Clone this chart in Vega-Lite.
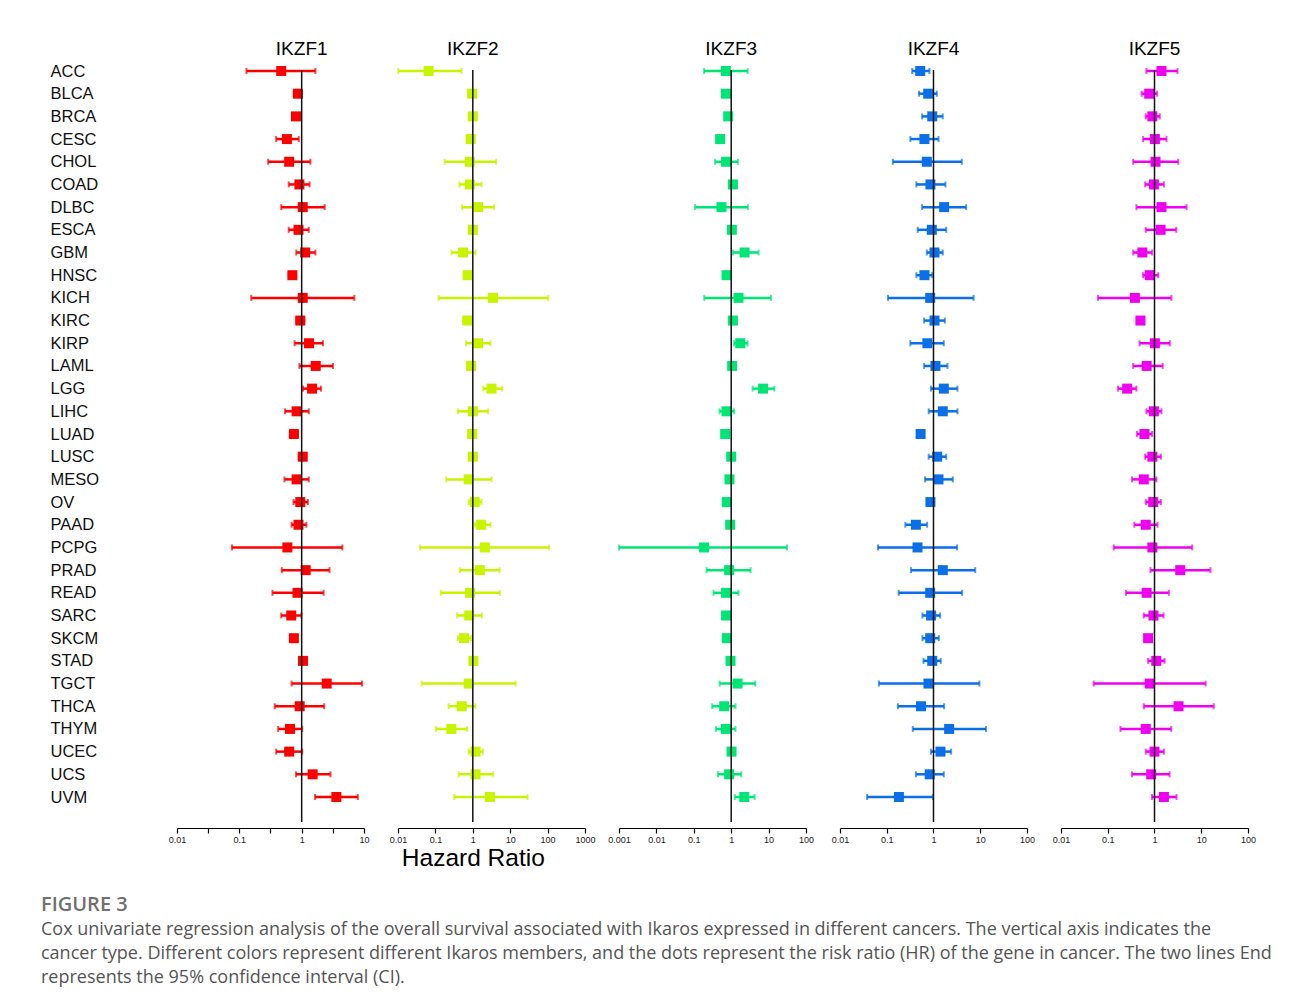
{
"$schema": "https://vega.github.io/schema/vega-lite/v6.json",
"background": "white",
"padding": {"left": 41, "top": 40, "right": 10, "bottom": 10},
"datasets": {
"ref": [{"ref": 1}],
"hr": [
{"cancer":"ACC","gene":"IKZF1","hr":0.47,"lo":0.13,"hi":1.66},
{"cancer":"BLCA","gene":"IKZF1","hr":0.87,"lo":0.75,"hi":1.0},
{"cancer":"BRCA","gene":"IKZF1","hr":0.81,"lo":0.72,"hi":0.92},
{"cancer":"CESC","gene":"IKZF1","hr":0.58,"lo":0.39,"hi":0.9},
{"cancer":"CHOL","gene":"IKZF1","hr":0.63,"lo":0.29,"hi":1.38},
{"cancer":"COAD","gene":"IKZF1","hr":0.92,"lo":0.62,"hi":1.34},
{"cancer":"DLBC","gene":"IKZF1","hr":1.04,"lo":0.47,"hi":2.34},
{"cancer":"ESCA","gene":"IKZF1","hr":0.89,"lo":0.62,"hi":1.3},
{"cancer":"GBM","gene":"IKZF1","hr":1.14,"lo":0.82,"hi":1.66},
{"cancer":"HNSC","gene":"IKZF1","hr":0.71,"lo":0.62,"hi":0.8},
{"cancer":"KICH","gene":"IKZF1","hr":1.04,"lo":0.155,"hi":7.0},
{"cancer":"KIRC","gene":"IKZF1","hr":0.95,"lo":0.82,"hi":1.1},
{"cancer":"KIRP","gene":"IKZF1","hr":1.31,"lo":0.77,"hi":2.2},
{"cancer":"LAML","gene":"IKZF1","hr":1.68,"lo":0.92,"hi":3.18},
{"cancer":"LGG","gene":"IKZF1","hr":1.47,"lo":1.05,"hi":2.04},
{"cancer":"LIHC","gene":"IKZF1","hr":0.83,"lo":0.54,"hi":1.3},
{"cancer":"LUAD","gene":"IKZF1","hr":0.75,"lo":0.65,"hi":0.87},
{"cancer":"LUSC","gene":"IKZF1","hr":1.04,"lo":0.9,"hi":1.15},
{"cancer":"MESO","gene":"IKZF1","hr":0.83,"lo":0.53,"hi":1.3},
{"cancer":"OV","gene":"IKZF1","hr":0.95,"lo":0.74,"hi":1.26},
{"cancer":"PAAD","gene":"IKZF1","hr":0.89,"lo":0.69,"hi":1.19},
{"cancer":"PCPG","gene":"IKZF1","hr":0.59,"lo":0.076,"hi":4.5},
{"cancer":"PRAD","gene":"IKZF1","hr":1.16,"lo":0.48,"hi":2.8},
{"cancer":"READ","gene":"IKZF1","hr":0.86,"lo":0.34,"hi":2.25},
{"cancer":"SARC","gene":"IKZF1","hr":0.68,"lo":0.47,"hi":0.99},
{"cancer":"SKCM","gene":"IKZF1","hr":0.75,"lo":0.68,"hi":0.83},
{"cancer":"STAD","gene":"IKZF1","hr":1.05,"lo":0.95,"hi":1.15},
{"cancer":"TGCT","gene":"IKZF1","hr":2.52,"lo":0.69,"hi":9.3},
{"cancer":"THCA","gene":"IKZF1","hr":0.93,"lo":0.37,"hi":2.3},
{"cancer":"THYM","gene":"IKZF1","hr":0.65,"lo":0.42,"hi":1.02},
{"cancer":"UCEC","gene":"IKZF1","hr":0.63,"lo":0.39,"hi":1.02},
{"cancer":"UCS","gene":"IKZF1","hr":1.5,"lo":0.81,"hi":2.9},
{"cancer":"UVM","gene":"IKZF1","hr":3.6,"lo":1.64,"hi":7.96},
{"cancer":"ACC","gene":"IKZF2","hr":0.066,"lo":0.0102,"hi":0.5},
{"cancer":"BLCA","gene":"IKZF2","hr":0.96,"lo":0.9,"hi":1.04},
{"cancer":"BRCA","gene":"IKZF2","hr":1.0,"lo":0.9,"hi":1.1},
{"cancer":"CESC","gene":"IKZF2","hr":0.88,"lo":0.8,"hi":0.98},
{"cancer":"CHOL","gene":"IKZF2","hr":0.83,"lo":0.177,"hi":4.2},
{"cancer":"COAD","gene":"IKZF2","hr":0.83,"lo":0.44,"hi":1.71},
{"cancer":"DLBC","gene":"IKZF2","hr":1.39,"lo":0.52,"hi":3.74},
{"cancer":"ESCA","gene":"IKZF2","hr":1.0,"lo":0.88,"hi":1.12},
{"cancer":"GBM","gene":"IKZF2","hr":0.55,"lo":0.27,"hi":1.18},
{"cancer":"HNSC","gene":"IKZF2","hr":0.73,"lo":0.66,"hi":0.8},
{"cancer":"KICH","gene":"IKZF2","hr":3.45,"lo":0.122,"hi":104},
{"cancer":"KIRC","gene":"IKZF2","hr":0.72,"lo":0.55,"hi":0.95},
{"cancer":"KIRP","gene":"IKZF2","hr":1.39,"lo":0.66,"hi":2.98},
{"cancer":"LAML","gene":"IKZF2","hr":0.9,"lo":0.82,"hi":0.98},
{"cancer":"LGG","gene":"IKZF2","hr":3.17,"lo":1.9,"hi":6.1},
{"cancer":"LIHC","gene":"IKZF2","hr":1.0,"lo":0.4,"hi":2.58},
{"cancer":"LUAD","gene":"IKZF2","hr":0.96,"lo":0.85,"hi":1.08},
{"cancer":"LUSC","gene":"IKZF2","hr":1.0,"lo":0.88,"hi":1.12},
{"cancer":"MESO","gene":"IKZF2","hr":0.78,"lo":0.196,"hi":3.17},
{"cancer":"OV","gene":"IKZF2","hr":1.13,"lo":0.78,"hi":1.71},
{"cancer":"PAAD","gene":"IKZF2","hr":1.67,"lo":1.13,"hi":2.98},
{"cancer":"PCPG","gene":"IKZF2","hr":2.1,"lo":0.039,"hi":110},
{"cancer":"PRAD","gene":"IKZF2","hr":1.54,"lo":0.45,"hi":5.2},
{"cancer":"READ","gene":"IKZF2","hr":0.85,"lo":0.14,"hi":5.3},
{"cancer":"SARC","gene":"IKZF2","hr":0.8,"lo":0.38,"hi":1.74},
{"cancer":"SKCM","gene":"IKZF2","hr":0.585,"lo":0.4,"hi":0.9},
{"cancer":"STAD","gene":"IKZF2","hr":1.04,"lo":0.92,"hi":1.16},
{"cancer":"TGCT","gene":"IKZF2","hr":0.78,"lo":0.043,"hi":14},
{"cancer":"THCA","gene":"IKZF2","hr":0.506,"lo":0.226,"hi":1.18},
{"cancer":"THYM","gene":"IKZF2","hr":0.267,"lo":0.103,"hi":0.705},
{"cancer":"UCEC","gene":"IKZF2","hr":1.18,"lo":0.78,"hi":1.86},
{"cancer":"UCS","gene":"IKZF2","hr":1.18,"lo":0.42,"hi":3.52},
{"cancer":"UVM","gene":"IKZF2","hr":2.86,"lo":0.32,"hi":29},
{"cancer":"ACC","gene":"IKZF3","hr":0.72,"lo":0.188,"hi":2.75},
{"cancer":"BLCA","gene":"IKZF3","hr":0.72,"lo":0.65,"hi":0.8},
{"cancer":"BRCA","gene":"IKZF3","hr":0.83,"lo":0.75,"hi":0.92},
{"cancer":"CESC","gene":"IKZF3","hr":0.506,"lo":0.44,"hi":0.58},
{"cancer":"CHOL","gene":"IKZF3","hr":0.73,"lo":0.37,"hi":1.51},
{"cancer":"COAD","gene":"IKZF3","hr":1.11,"lo":0.95,"hi":1.3},
{"cancer":"DLBC","gene":"IKZF3","hr":0.55,"lo":0.108,"hi":2.8},
{"cancer":"ESCA","gene":"IKZF3","hr":1.04,"lo":0.92,"hi":1.16},
{"cancer":"GBM","gene":"IKZF3","hr":2.28,"lo":1.11,"hi":5.4},
{"cancer":"HNSC","gene":"IKZF3","hr":0.75,"lo":0.68,"hi":0.82},
{"cancer":"KICH","gene":"IKZF3","hr":1.57,"lo":0.19,"hi":11.6},
{"cancer":"KIRC","gene":"IKZF3","hr":1.11,"lo":1.0,"hi":1.24},
{"cancer":"KIRP","gene":"IKZF3","hr":1.75,"lo":1.2,"hi":2.75},
{"cancer":"LAML","gene":"IKZF3","hr":1.06,"lo":0.94,"hi":1.2},
{"cancer":"LGG","gene":"IKZF3","hr":7.1,"lo":3.74,"hi":14.3},
{"cancer":"LIHC","gene":"IKZF3","hr":0.75,"lo":0.49,"hi":1.2},
{"cancer":"LUAD","gene":"IKZF3","hr":0.69,"lo":0.62,"hi":0.77},
{"cancer":"LUSC","gene":"IKZF3","hr":1.0,"lo":0.9,"hi":1.1},
{"cancer":"MESO","gene":"IKZF3","hr":0.9,"lo":0.78,"hi":1.04},
{"cancer":"OV","gene":"IKZF3","hr":0.76,"lo":0.65,"hi":0.9},
{"cancer":"PAAD","gene":"IKZF3","hr":0.94,"lo":0.82,"hi":1.08},
{"cancer":"PCPG","gene":"IKZF3","hr":0.188,"lo":0.001,"hi":31},
{"cancer":"PRAD","gene":"IKZF3","hr":0.88,"lo":0.22,"hi":3.3},
{"cancer":"READ","gene":"IKZF3","hr":0.73,"lo":0.335,"hi":1.57},
{"cancer":"SARC","gene":"IKZF3","hr":0.73,"lo":0.62,"hi":0.85},
{"cancer":"SKCM","gene":"IKZF3","hr":0.76,"lo":0.68,"hi":0.85},
{"cancer":"STAD","gene":"IKZF3","hr":0.96,"lo":0.86,"hi":1.07},
{"cancer":"TGCT","gene":"IKZF3","hr":1.48,"lo":0.49,"hi":4.4},
{"cancer":"THCA","gene":"IKZF3","hr":0.65,"lo":0.31,"hi":1.3},
{"cancer":"THYM","gene":"IKZF3","hr":0.72,"lo":0.39,"hi":1.3},
{"cancer":"UCEC","gene":"IKZF3","hr":1.02,"lo":0.92,"hi":1.14},
{"cancer":"UCS","gene":"IKZF3","hr":0.88,"lo":0.44,"hi":1.86},
{"cancer":"UVM","gene":"IKZF3","hr":2.24,"lo":1.25,"hi":4.24},
{"cancer":"ACC","gene":"IKZF4","hr":0.52,"lo":0.35,"hi":0.82},
{"cancer":"BLCA","gene":"IKZF4","hr":0.77,"lo":0.49,"hi":1.18},
{"cancer":"BRCA","gene":"IKZF4","hr":0.94,"lo":0.57,"hi":1.58},
{"cancer":"CESC","gene":"IKZF4","hr":0.64,"lo":0.32,"hi":1.28},
{"cancer":"CHOL","gene":"IKZF4","hr":0.72,"lo":0.135,"hi":4.03},
{"cancer":"COAD","gene":"IKZF4","hr":0.86,"lo":0.43,"hi":1.8},
{"cancer":"DLBC","gene":"IKZF4","hr":1.69,"lo":0.57,"hi":4.99},
{"cancer":"ESCA","gene":"IKZF4","hr":0.92,"lo":0.46,"hi":1.87},
{"cancer":"GBM","gene":"IKZF4","hr":1.05,"lo":0.72,"hi":1.58},
{"cancer":"HNSC","gene":"IKZF4","hr":0.64,"lo":0.43,"hi":0.94},
{"cancer":"KICH","gene":"IKZF4","hr":0.85,"lo":0.106,"hi":7.2},
{"cancer":"KIRC","gene":"IKZF4","hr":1.05,"lo":0.63,"hi":1.75},
{"cancer":"KIRP","gene":"IKZF4","hr":0.74,"lo":0.32,"hi":1.66},
{"cancer":"LAML","gene":"IKZF4","hr":1.1,"lo":0.63,"hi":1.99},
{"cancer":"LGG","gene":"IKZF4","hr":1.66,"lo":0.88,"hi":3.26},
{"cancer":"LIHC","gene":"IKZF4","hr":1.58,"lo":0.79,"hi":3.26},
{"cancer":"LUAD","gene":"IKZF4","hr":0.53,"lo":0.45,"hi":0.62},
{"cancer":"LUSC","gene":"IKZF4","hr":1.2,"lo":0.79,"hi":1.87},
{"cancer":"MESO","gene":"IKZF4","hr":1.28,"lo":0.66,"hi":2.59},
{"cancer":"OV","gene":"IKZF4","hr":0.86,"lo":0.75,"hi":0.98},
{"cancer":"PAAD","gene":"IKZF4","hr":0.42,"lo":0.25,"hi":0.73},
{"cancer":"PCPG","gene":"IKZF4","hr":0.455,"lo":0.065,"hi":3.2},
{"cancer":"PRAD","gene":"IKZF4","hr":1.58,"lo":0.33,"hi":7.8},
{"cancer":"READ","gene":"IKZF4","hr":0.85,"lo":0.18,"hi":4.1},
{"cancer":"SARC","gene":"IKZF4","hr":0.89,"lo":0.58,"hi":1.39},
{"cancer":"SKCM","gene":"IKZF4","hr":0.85,"lo":0.58,"hi":1.3},
{"cancer":"STAD","gene":"IKZF4","hr":0.94,"lo":0.61,"hi":1.43},
{"cancer":"TGCT","gene":"IKZF4","hr":0.78,"lo":0.068,"hi":9.6},
{"cancer":"THCA","gene":"IKZF4","hr":0.54,"lo":0.173,"hi":1.69},
{"cancer":"THYM","gene":"IKZF4","hr":2.16,"lo":0.36,"hi":13.3},
{"cancer":"UCEC","gene":"IKZF4","hr":1.41,"lo":0.88,"hi":2.38},
{"cancer":"UCS","gene":"IKZF4","hr":0.83,"lo":0.42,"hi":1.66},
{"cancer":"UVM","gene":"IKZF4","hr":0.182,"lo":0.038,"hi":0.97},
{"cancer":"ACC","gene":"IKZF5","hr":1.41,"lo":0.67,"hi":3.1},
{"cancer":"BLCA","gene":"IKZF5","hr":0.77,"lo":0.53,"hi":1.14},
{"cancer":"BRCA","gene":"IKZF5","hr":0.9,"lo":0.65,"hi":1.3},
{"cancer":"CESC","gene":"IKZF5","hr":1.02,"lo":0.57,"hi":1.81},
{"cancer":"CHOL","gene":"IKZF5","hr":1.05,"lo":0.35,"hi":3.22},
{"cancer":"COAD","gene":"IKZF5","hr":0.97,"lo":0.63,"hi":1.59},
{"cancer":"DLBC","gene":"IKZF5","hr":1.41,"lo":0.41,"hi":4.86},
{"cancer":"ESCA","gene":"IKZF5","hr":1.35,"lo":0.65,"hi":2.92},
{"cancer":"GBM","gene":"IKZF5","hr":0.55,"lo":0.35,"hi":0.89},
{"cancer":"HNSC","gene":"IKZF5","hr":0.79,"lo":0.57,"hi":1.2},
{"cancer":"KICH","gene":"IKZF5","hr":0.38,"lo":0.062,"hi":2.3},
{"cancer":"KIRC","gene":"IKZF5","hr":0.5,"lo":0.42,"hi":0.6},
{"cancer":"KIRP","gene":"IKZF5","hr":1.02,"lo":0.48,"hi":2.13},
{"cancer":"LAML","gene":"IKZF5","hr":0.68,"lo":0.35,"hi":1.5},
{"cancer":"LGG","gene":"IKZF5","hr":0.26,"lo":0.166,"hi":0.41},
{"cancer":"LIHC","gene":"IKZF5","hr":0.97,"lo":0.67,"hi":1.41},
{"cancer":"LUAD","gene":"IKZF5","hr":0.61,"lo":0.42,"hi":0.89},
{"cancer":"LUSC","gene":"IKZF5","hr":0.9,"lo":0.63,"hi":1.37},
{"cancer":"MESO","gene":"IKZF5","hr":0.59,"lo":0.33,"hi":1.1},
{"cancer":"OV","gene":"IKZF5","hr":0.94,"lo":0.65,"hi":1.37},
{"cancer":"PAAD","gene":"IKZF5","hr":0.65,"lo":0.37,"hi":1.16},
{"cancer":"PCPG","gene":"IKZF5","hr":0.9,"lo":0.134,"hi":6.4},
{"cancer":"PRAD","gene":"IKZF5","hr":3.55,"lo":0.82,"hi":15.7},
{"cancer":"READ","gene":"IKZF5","hr":0.68,"lo":0.246,"hi":2.03},
{"cancer":"SARC","gene":"IKZF5","hr":0.95,"lo":0.59,"hi":1.56},
{"cancer":"SKCM","gene":"IKZF5","hr":0.73,"lo":0.64,"hi":0.83},
{"cancer":"STAD","gene":"IKZF5","hr":1.09,"lo":0.73,"hi":1.64},
{"cancer":"TGCT","gene":"IKZF5","hr":0.79,"lo":0.05,"hi":12.4},
{"cancer":"THCA","gene":"IKZF5","hr":3.27,"lo":0.59,"hi":18.5},
{"cancer":"THYM","gene":"IKZF5","hr":0.65,"lo":0.187,"hi":2.28},
{"cancer":"UCEC","gene":"IKZF5","hr":1.0,"lo":0.65,"hi":1.59},
{"cancer":"UCS","gene":"IKZF5","hr":0.85,"lo":0.33,"hi":2.1},
{"cancer":"UVM","gene":"IKZF5","hr":1.59,"lo":0.88,"hi":2.96}
]
},
"title": {
"text": "FIGURE 3",
"subtitle": [
"Cox univariate regression analysis of the overall survival associated with Ikaros expressed in different cancers. The vertical axis indicates the",
"cancer type. Different colors represent different Ikaros members, and the dots represent the risk ratio (HR) of the gene in cancer. The two lines End",
"represents the 95% confidence interval (CI)."
],
"orient": "bottom", "anchor": "start", "frame": "bounds",
"font": "Open Sans", "fontSize": 20, "fontWeight": 600, "color": "#707070",
"subtitleFont": "Open Sans", "subtitleFontSize": 18, "subtitleColor": "#555555",
"subtitleLineHeight": 24, "subtitlePadding": 6, "offset": 25, "dx": -9
},
"spacing": 34,
"bounds": "flush",
"hconcat": [
{
"width": 187, "height": 752,
"title": {"text": "IKZF1", "dx": 31.2, "offset": 4},
"layer": [
{"data": {"name": "hr"}, "transform": [{"filter": "datum.gene == 'IKZF1'"}],
 "mark": {"type": "rule", "strokeWidth": 2.5},
 "encoding": {
  "y": {"field": "cancer", "type": "nominal", "sort": null, "title": null, "scale": {"type": "point", "padding": 0.573, "align": 0.0385}},
  "x": {"field": "lo", "type": "quantitative", "title": null, "scale": {"type": "log", "domain": [0.01, 10], "nice": false, "zero": false},
        "axis": {"values": [0.01, 0.0316, 0.1, 0.316, 1, 3.16, 10], "format": "~g", "labelExpr": "indexof([0.01, 0.1, 1, 10], datum.value) >= 0 ? datum.label : ''"}},
  "x2": {"field": "hi"},
  "color": {"field": "gene", "type": "nominal", "scale": {"domain": ["IKZF1","IKZF2","IKZF3","IKZF4","IKZF5"], "range": ["#ff0000","#c8f400","#00e676","#0a6fe8","#f000f0"]}, "legend": null}}},
{"data": {"name": "hr"}, "transform": [{"filter": "datum.gene == 'IKZF1'"}],
 "mark": {"type": "tick", "thickness": 2, "size": 6},
 "encoding": {
  "y": {"field": "cancer", "type": "nominal", "sort": null, "title": null, "scale": {"type": "point", "padding": 0.573, "align": 0.0385}},
  "x": {"field": "lo", "type": "quantitative", "title": null, "scale": {"type": "log", "domain": [0.01, 10], "nice": false, "zero": false},
        "axis": {"values": [0.01, 0.0316, 0.1, 0.316, 1, 3.16, 10], "format": "~g", "labelExpr": "indexof([0.01, 0.1, 1, 10], datum.value) >= 0 ? datum.label : ''"}},
  "color": {"field": "gene", "type": "nominal", "legend": null}}},
{"data": {"name": "hr"}, "transform": [{"filter": "datum.gene == 'IKZF1'"}],
 "mark": {"type": "tick", "thickness": 2, "size": 6},
 "encoding": {
  "y": {"field": "cancer", "type": "nominal", "sort": null, "title": null, "scale": {"type": "point", "padding": 0.573, "align": 0.0385}},
  "x": {"field": "hi", "type": "quantitative", "title": null, "scale": {"type": "log", "domain": [0.01, 10], "nice": false, "zero": false},
        "axis": {"values": [0.01, 0.0316, 0.1, 0.316, 1, 3.16, 10], "format": "~g", "labelExpr": "indexof([0.01, 0.1, 1, 10], datum.value) >= 0 ? datum.label : ''"}},
  "color": {"field": "gene", "type": "nominal", "legend": null}}},
{"data": {"name": "hr"}, "transform": [{"filter": "datum.gene == 'IKZF1'"}],
 "mark": {"type": "point", "shape": "square", "filled": true, "size": 100, "opacity": 1},
 "encoding": {
  "y": {"field": "cancer", "type": "nominal", "sort": null, "title": null, "scale": {"type": "point", "padding": 0.573, "align": 0.0385}},
  "x": {"field": "hr", "type": "quantitative", "title": null, "scale": {"type": "log", "domain": [0.01, 10], "nice": false, "zero": false},
        "axis": {"values": [0.01, 0.0316, 0.1, 0.316, 1, 3.16, 10], "format": "~g", "labelExpr": "indexof([0.01, 0.1, 1, 10], datum.value) >= 0 ? datum.label : ''"}},
  "color": {"field": "gene", "type": "nominal", "legend": null}}},
{"data": {"name": "ref"},
 "mark": {"type": "rule", "color": "#111", "strokeWidth": 1.5},
 "encoding": {
  "x": {"field": "ref", "type": "quantitative", "title": null, "scale": {"type": "log", "domain": [0.01, 10], "nice": false, "zero": false},
        "axis": {"values": [0.01, 0.0316, 0.1, 0.316, 1, 3.16, 10], "format": "~g", "labelExpr": "indexof([0.01, 0.1, 1, 10], datum.value) >= 0 ? datum.label : ''"}}}}
]
},
{
"width": 187, "height": 752,
"title": {"text": "IKZF2", "dx": -18.7},
"layer": [
{"data": {"name": "hr"}, "transform": [{"filter": "datum.gene == 'IKZF2'"}],
 "mark": {"type": "rule", "strokeWidth": 2.5},
 "encoding": {
  "y": {"field": "cancer", "type": "nominal", "sort": null, "scale": {"type": "point", "padding": 0.573, "align": 0.0385}, "axis": null},
  "x": {"field": "lo", "type": "quantitative", "title": "Hazard Ratio", "scale": {"type": "log", "domain": [0.01, 1000], "nice": false, "zero": false},
        "axis": {"values": [0.01, 0.1, 1, 10, 100, 1000], "format": "~g", "titleX": 74.8}},
  "x2": {"field": "hi"},
  "color": {"field": "gene", "type": "nominal", "scale": {"domain": ["IKZF1","IKZF2","IKZF3","IKZF4","IKZF5"], "range": ["#ff0000","#c8f400","#00e676","#0a6fe8","#f000f0"]}, "legend": null}}},
{"data": {"name": "hr"}, "transform": [{"filter": "datum.gene == 'IKZF2'"}],
 "mark": {"type": "tick", "thickness": 2, "size": 6},
 "encoding": {
  "y": {"field": "cancer", "type": "nominal", "sort": null, "scale": {"type": "point", "padding": 0.573, "align": 0.0385}, "axis": null},
  "x": {"field": "lo", "type": "quantitative", "title": "Hazard Ratio", "scale": {"type": "log", "domain": [0.01, 1000], "nice": false, "zero": false},
        "axis": {"values": [0.01, 0.1, 1, 10, 100, 1000], "format": "~g", "titleX": 74.8}},
  "color": {"field": "gene", "type": "nominal", "legend": null}}},
{"data": {"name": "hr"}, "transform": [{"filter": "datum.gene == 'IKZF2'"}],
 "mark": {"type": "tick", "thickness": 2, "size": 6},
 "encoding": {
  "y": {"field": "cancer", "type": "nominal", "sort": null, "scale": {"type": "point", "padding": 0.573, "align": 0.0385}, "axis": null},
  "x": {"field": "hi", "type": "quantitative", "title": "Hazard Ratio", "scale": {"type": "log", "domain": [0.01, 1000], "nice": false, "zero": false},
        "axis": {"values": [0.01, 0.1, 1, 10, 100, 1000], "format": "~g", "titleX": 74.8}},
  "color": {"field": "gene", "type": "nominal", "legend": null}}},
{"data": {"name": "hr"}, "transform": [{"filter": "datum.gene == 'IKZF2'"}],
 "mark": {"type": "point", "shape": "square", "filled": true, "size": 100, "opacity": 1},
 "encoding": {
  "y": {"field": "cancer", "type": "nominal", "sort": null, "scale": {"type": "point", "padding": 0.573, "align": 0.0385}, "axis": null},
  "x": {"field": "hr", "type": "quantitative", "title": "Hazard Ratio", "scale": {"type": "log", "domain": [0.01, 1000], "nice": false, "zero": false},
        "axis": {"values": [0.01, 0.1, 1, 10, 100, 1000], "format": "~g", "titleX": 74.8}},
  "color": {"field": "gene", "type": "nominal", "legend": null}}},
{"data": {"name": "ref"},
 "mark": {"type": "rule", "color": "#111", "strokeWidth": 1.5},
 "encoding": {
  "x": {"field": "ref", "type": "quantitative", "title": "Hazard Ratio", "scale": {"type": "log", "domain": [0.01, 1000], "nice": false, "zero": false},
        "axis": {"values": [0.01, 0.1, 1, 10, 100, 1000], "format": "~g", "titleX": 74.8}}}}
]
},
{
"width": 187, "height": 752,
"title": {"text": "IKZF3", "dx": 18.7},
"layer": [
{"data": {"name": "hr"}, "transform": [{"filter": "datum.gene == 'IKZF3'"}],
 "mark": {"type": "rule", "strokeWidth": 2.5},
 "encoding": {
  "y": {"field": "cancer", "type": "nominal", "sort": null, "scale": {"type": "point", "padding": 0.573, "align": 0.0385}, "axis": null},
  "x": {"field": "lo", "type": "quantitative", "title": null, "scale": {"type": "log", "domain": [0.001, 100], "nice": false, "zero": false},
        "axis": {"values": [0.001, 0.01, 0.1, 1, 10, 100], "format": "~g"}},
  "x2": {"field": "hi"},
  "color": {"field": "gene", "type": "nominal", "scale": {"domain": ["IKZF1","IKZF2","IKZF3","IKZF4","IKZF5"], "range": ["#ff0000","#c8f400","#00e676","#0a6fe8","#f000f0"]}, "legend": null}}},
{"data": {"name": "hr"}, "transform": [{"filter": "datum.gene == 'IKZF3'"}],
 "mark": {"type": "tick", "thickness": 2, "size": 6},
 "encoding": {
  "y": {"field": "cancer", "type": "nominal", "sort": null, "scale": {"type": "point", "padding": 0.573, "align": 0.0385}, "axis": null},
  "x": {"field": "lo", "type": "quantitative", "title": null, "scale": {"type": "log", "domain": [0.001, 100], "nice": false, "zero": false},
        "axis": {"values": [0.001, 0.01, 0.1, 1, 10, 100], "format": "~g"}},
  "color": {"field": "gene", "type": "nominal", "legend": null}}},
{"data": {"name": "hr"}, "transform": [{"filter": "datum.gene == 'IKZF3'"}],
 "mark": {"type": "tick", "thickness": 2, "size": 6},
 "encoding": {
  "y": {"field": "cancer", "type": "nominal", "sort": null, "scale": {"type": "point", "padding": 0.573, "align": 0.0385}, "axis": null},
  "x": {"field": "hi", "type": "quantitative", "title": null, "scale": {"type": "log", "domain": [0.001, 100], "nice": false, "zero": false},
        "axis": {"values": [0.001, 0.01, 0.1, 1, 10, 100], "format": "~g"}},
  "color": {"field": "gene", "type": "nominal", "legend": null}}},
{"data": {"name": "hr"}, "transform": [{"filter": "datum.gene == 'IKZF3'"}],
 "mark": {"type": "point", "shape": "square", "filled": true, "size": 100, "opacity": 1},
 "encoding": {
  "y": {"field": "cancer", "type": "nominal", "sort": null, "scale": {"type": "point", "padding": 0.573, "align": 0.0385}, "axis": null},
  "x": {"field": "hr", "type": "quantitative", "title": null, "scale": {"type": "log", "domain": [0.001, 100], "nice": false, "zero": false},
        "axis": {"values": [0.001, 0.01, 0.1, 1, 10, 100], "format": "~g"}},
  "color": {"field": "gene", "type": "nominal", "legend": null}}},
{"data": {"name": "ref"},
 "mark": {"type": "rule", "color": "#111", "strokeWidth": 1.5},
 "encoding": {
  "x": {"field": "ref", "type": "quantitative", "title": null, "scale": {"type": "log", "domain": [0.001, 100], "nice": false, "zero": false},
        "axis": {"values": [0.001, 0.01, 0.1, 1, 10, 100], "format": "~g"}}}}
]
},
{
"width": 187, "height": 752,
"title": {"text": "IKZF4"},
"layer": [
{"data": {"name": "hr"}, "transform": [{"filter": "datum.gene == 'IKZF4'"}],
 "mark": {"type": "rule", "strokeWidth": 2.5},
 "encoding": {
  "y": {"field": "cancer", "type": "nominal", "sort": null, "scale": {"type": "point", "padding": 0.573, "align": 0.0385}, "axis": null},
  "x": {"field": "lo", "type": "quantitative", "title": null, "scale": {"type": "log", "domain": [0.01, 100], "nice": false, "zero": false},
        "axis": {"values": [0.01, 0.1, 1, 10, 100], "format": "~g"}},
  "x2": {"field": "hi"},
  "color": {"field": "gene", "type": "nominal", "scale": {"domain": ["IKZF1","IKZF2","IKZF3","IKZF4","IKZF5"], "range": ["#ff0000","#c8f400","#00e676","#0a6fe8","#f000f0"]}, "legend": null}}},
{"data": {"name": "hr"}, "transform": [{"filter": "datum.gene == 'IKZF4'"}],
 "mark": {"type": "tick", "thickness": 2, "size": 6},
 "encoding": {
  "y": {"field": "cancer", "type": "nominal", "sort": null, "scale": {"type": "point", "padding": 0.573, "align": 0.0385}, "axis": null},
  "x": {"field": "lo", "type": "quantitative", "title": null, "scale": {"type": "log", "domain": [0.01, 100], "nice": false, "zero": false},
        "axis": {"values": [0.01, 0.1, 1, 10, 100], "format": "~g"}},
  "color": {"field": "gene", "type": "nominal", "legend": null}}},
{"data": {"name": "hr"}, "transform": [{"filter": "datum.gene == 'IKZF4'"}],
 "mark": {"type": "tick", "thickness": 2, "size": 6},
 "encoding": {
  "y": {"field": "cancer", "type": "nominal", "sort": null, "scale": {"type": "point", "padding": 0.573, "align": 0.0385}, "axis": null},
  "x": {"field": "hi", "type": "quantitative", "title": null, "scale": {"type": "log", "domain": [0.01, 100], "nice": false, "zero": false},
        "axis": {"values": [0.01, 0.1, 1, 10, 100], "format": "~g"}},
  "color": {"field": "gene", "type": "nominal", "legend": null}}},
{"data": {"name": "hr"}, "transform": [{"filter": "datum.gene == 'IKZF4'"}],
 "mark": {"type": "point", "shape": "square", "filled": true, "size": 100, "opacity": 1},
 "encoding": {
  "y": {"field": "cancer", "type": "nominal", "sort": null, "scale": {"type": "point", "padding": 0.573, "align": 0.0385}, "axis": null},
  "x": {"field": "hr", "type": "quantitative", "title": null, "scale": {"type": "log", "domain": [0.01, 100], "nice": false, "zero": false},
        "axis": {"values": [0.01, 0.1, 1, 10, 100], "format": "~g"}},
  "color": {"field": "gene", "type": "nominal", "legend": null}}},
{"data": {"name": "ref"},
 "mark": {"type": "rule", "color": "#111", "strokeWidth": 1.5},
 "encoding": {
  "x": {"field": "ref", "type": "quantitative", "title": null, "scale": {"type": "log", "domain": [0.01, 100], "nice": false, "zero": false},
        "axis": {"values": [0.01, 0.1, 1, 10, 100], "format": "~g"}}}}
]
},
{
"width": 187, "height": 752,
"title": {"text": "IKZF5"},
"layer": [
{"data": {"name": "hr"}, "transform": [{"filter": "datum.gene == 'IKZF5'"}],
 "mark": {"type": "rule", "strokeWidth": 2.5},
 "encoding": {
  "y": {"field": "cancer", "type": "nominal", "sort": null, "scale": {"type": "point", "padding": 0.573, "align": 0.0385}, "axis": null},
  "x": {"field": "lo", "type": "quantitative", "title": null, "scale": {"type": "log", "domain": [0.01, 100], "nice": false, "zero": false},
        "axis": {"values": [0.01, 0.1, 1, 10, 100], "format": "~g"}},
  "x2": {"field": "hi"},
  "color": {"field": "gene", "type": "nominal", "scale": {"domain": ["IKZF1","IKZF2","IKZF3","IKZF4","IKZF5"], "range": ["#ff0000","#c8f400","#00e676","#0a6fe8","#f000f0"]}, "legend": null}}},
{"data": {"name": "hr"}, "transform": [{"filter": "datum.gene == 'IKZF5'"}],
 "mark": {"type": "tick", "thickness": 2, "size": 6},
 "encoding": {
  "y": {"field": "cancer", "type": "nominal", "sort": null, "scale": {"type": "point", "padding": 0.573, "align": 0.0385}, "axis": null},
  "x": {"field": "lo", "type": "quantitative", "title": null, "scale": {"type": "log", "domain": [0.01, 100], "nice": false, "zero": false},
        "axis": {"values": [0.01, 0.1, 1, 10, 100], "format": "~g"}},
  "color": {"field": "gene", "type": "nominal", "legend": null}}},
{"data": {"name": "hr"}, "transform": [{"filter": "datum.gene == 'IKZF5'"}],
 "mark": {"type": "tick", "thickness": 2, "size": 6},
 "encoding": {
  "y": {"field": "cancer", "type": "nominal", "sort": null, "scale": {"type": "point", "padding": 0.573, "align": 0.0385}, "axis": null},
  "x": {"field": "hi", "type": "quantitative", "title": null, "scale": {"type": "log", "domain": [0.01, 100], "nice": false, "zero": false},
        "axis": {"values": [0.01, 0.1, 1, 10, 100], "format": "~g"}},
  "color": {"field": "gene", "type": "nominal", "legend": null}}},
{"data": {"name": "hr"}, "transform": [{"filter": "datum.gene == 'IKZF5'"}],
 "mark": {"type": "point", "shape": "square", "filled": true, "size": 100, "opacity": 1},
 "encoding": {
  "y": {"field": "cancer", "type": "nominal", "sort": null, "scale": {"type": "point", "padding": 0.573, "align": 0.0385}, "axis": null},
  "x": {"field": "hr", "type": "quantitative", "title": null, "scale": {"type": "log", "domain": [0.01, 100], "nice": false, "zero": false},
        "axis": {"values": [0.01, 0.1, 1, 10, 100], "format": "~g"}},
  "color": {"field": "gene", "type": "nominal", "legend": null}}},
{"data": {"name": "ref"},
 "mark": {"type": "rule", "color": "#111", "strokeWidth": 1.5},
 "encoding": {
  "x": {"field": "ref", "type": "quantitative", "title": null, "scale": {"type": "log", "domain": [0.01, 100], "nice": false, "zero": false},
        "axis": {"values": [0.01, 0.1, 1, 10, 100], "format": "~g"}}}}
]
}
],
"config": {
"view": {"stroke": null},
"font": "Liberation Sans",
"title": {"fontSize": 19, "fontWeight": "normal", "color": "#000", "offset": 7, "font": "Liberation Sans"},
"axis": {"grid": false},
"axisX": {"offset": 6, "domainColor": "#000", "domainWidth": 1.2, "tickColor": "#000", "tickWidth": 1.2, "tickSize": 5, "labelFontSize": 9, "labelColor": "#222", "labelPadding": 2, "labelFlush": false, "labelOverlap": false, "titleFontSize": 24.5, "titleFontWeight": "normal", "titleColor": "#000", "titleFont": "Liberation Sans", "titlePadding": 2},
"axisY": {"domain": false, "ticks": false, "labelAlign": "left", "labelPadding": 127, "labelFontSize": 16.5, "labelColor": "#111", "labelFont": "Liberation Sans", "labelBaseline": "middle"}
}
}
